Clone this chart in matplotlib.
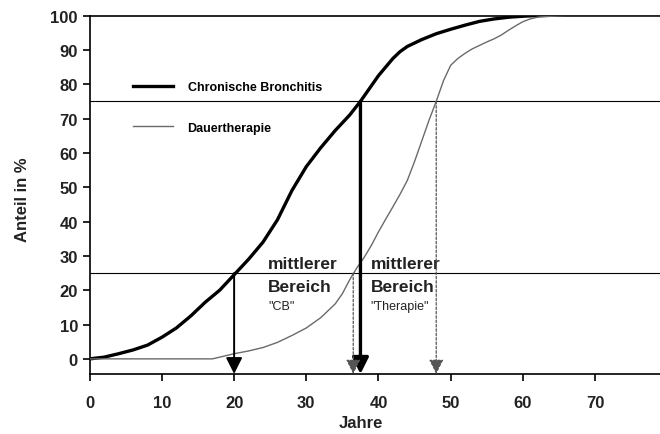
import numpy as np
import matplotlib
matplotlib.use("Agg")
import matplotlib.pyplot as plt

plt.rcParams['font.family'] = ['Liberation Sans', 'DejaVu Sans']

cb_x = [0, 2, 4, 6, 8, 10, 12, 14, 16, 18, 20, 22, 24, 26, 28, 30, 32, 34, 36, 37.5,
        40, 42, 43, 44, 46, 48, 50, 52, 54, 56, 58, 60, 62]
cb_y = [0, 0.5, 1.5, 2.6, 4, 6.3, 9, 12.5, 16.5, 20, 24.5, 29, 34, 40.5, 49, 56, 61.5, 66.5, 71, 75,
        82.5, 87.5, 89.5, 91, 93, 94.7, 96, 97.2, 98.3, 99, 99.5, 99.8, 100]

ther_x = [0, 17, 18, 20, 22, 24, 26, 28, 30, 32, 34, 35, 36, 37, 38, 39, 40, 41, 42, 43, 44,
          45, 46, 47, 48, 49, 50, 51, 52, 53, 54, 55, 56, 57, 58, 59, 60, 61, 62, 64, 66, 79]
ther_y = [0, 0, 0.5, 1.5, 2.3, 3.3, 4.8, 6.8, 9, 12, 16, 19, 23, 26.5, 29.5, 33, 37, 40.7, 44.3, 48, 52,
          57.5, 63.5, 69.5, 75, 81, 85.5, 87.5, 89, 90.3, 91.3, 92.3, 93.2, 94.3, 95.7, 97, 98.2, 99, 99.5, 99.8, 100, 100]

quartiles = [25, 75]
cb_q = [20, 37.5]
ther_q = [36.5, 48]

xticks = [0, 10, 20, 30, 40, 50, 60, 70]
yticks = [0, 10, 20, 30, 40, 50, 60, 70, 80, 90, 100]

fig = plt.figure(figsize=(6.6, 4.35), dpi=100)
ax = fig.add_axes([0.136, 0.138, 0.864, 0.824])

ymin = -4.4
ax.set_xlim(0, 79)
ax.set_ylim(ymin, 100)

ax.plot(cb_x, cb_y, color='black', lw=2.4, label='Chronische Bronchitis', zorder=3)
ax.plot(ther_x, ther_y, color='#6a6a6a', lw=1.0, label='Dauertherapie', zorder=3)

for q in quartiles:
    ax.axhline(q, color='black', lw=0.8, zorder=2)

for x, q, w in zip(cb_q, quartiles, [1.4, 2.4]):
    ax.annotate('', xy=(x, ymin), xytext=(x, q),
                arrowprops=dict(arrowstyle='-|>,head_width=0.45,head_length=0.9', color='black', lw=w,
                                mutation_scale=11, shrinkA=0, shrinkB=0),
                zorder=4)
for x, q in zip(ther_q, quartiles):
    ax.annotate('', xy=(x, ymin), xytext=(x, q),
                arrowprops=dict(arrowstyle='-|>,head_width=0.4,head_length=0.8', color='#555555', lw=0.9,
                                linestyle=(0, (2, 1.5)), mutation_scale=11,
                                shrinkA=0, shrinkB=0),
                zorder=4)

for x, name in [(24.7, '"CB"'), (38.9, '"Therapie"')]:
    ax.text(x, 26.4, 'mittlerer', fontsize=12.5, fontweight='bold', color='#222222')
    ax.text(x, 19.8, 'Bereich', fontsize=12.5, fontweight='bold', color='#222222')
    ax.text(x, 14.4, name, fontsize=9, color='#222222')

ax.spines['right'].set_visible(False)
for s in ['left', 'bottom', 'top']:
    ax.spines[s].set_linewidth(1.2)

ax.set_xticks(xticks)
ax.set_yticks(yticks)
ax.tick_params(axis='both', direction='out', length=5, width=1.2, labelsize=12)
ax.tick_params(axis='x', pad=10)
for lab in ax.get_xticklabels() + ax.get_yticklabels():
    lab.set_fontweight('bold')
    lab.set_color('#222222')

ax.set_xlabel('Jahre', fontsize=12, fontweight='bold', color='#222222')
ax.xaxis.set_label_coords(0.475, -0.115)
ax.set_ylabel('Anteil in %', fontsize=12, fontweight='bold', color='#222222')
ax.yaxis.set_label_coords(-0.105, 0.49)

ax.legend(loc='upper left', bbox_to_anchor=(0.075, 0.817), frameon=False,
          handlelength=3.2, handletextpad=1.2, labelspacing=2.3,
          borderpad=0, borderaxespad=0, prop={'weight': 'bold', 'size': 9})

fig.savefig('out.png', dpi=100)
